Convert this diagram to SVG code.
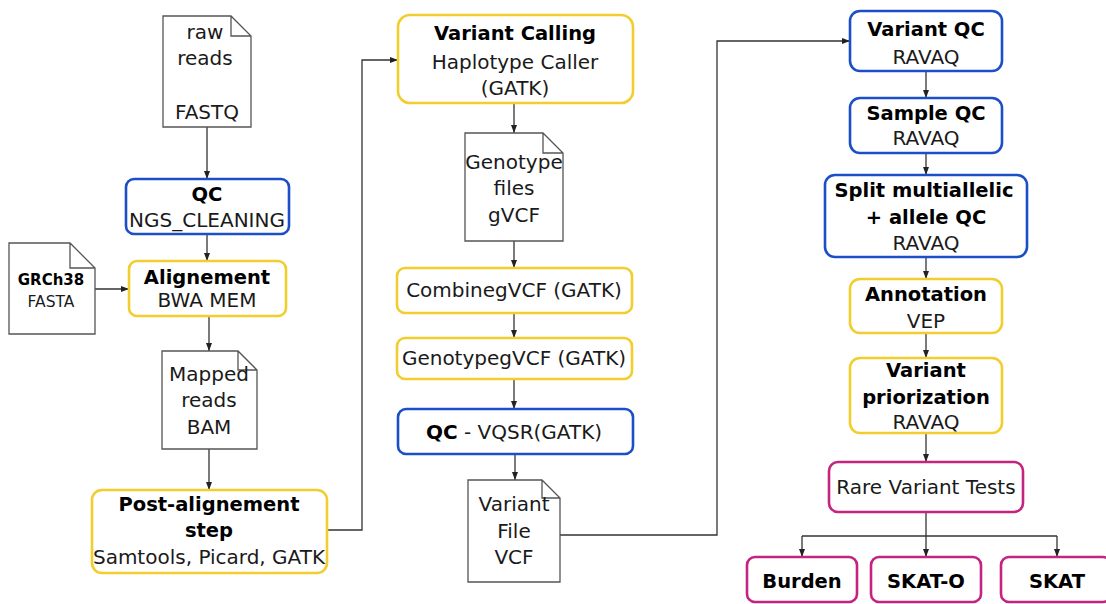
<svg xmlns="http://www.w3.org/2000/svg" width="1106" height="604" viewBox="0 0 1106 604">
<defs>
<marker id="arr" viewBox="0 0 8 6" refX="8" refY="3" markerWidth="8" markerHeight="6" markerUnits="userSpaceOnUse" orient="auto">
<path d="M0,0 L8,3 L0,6 Z" fill="#222"/>
</marker>
<style>
.doc{fill:#fff;stroke:#555;stroke-width:1.3}
.y{fill:#fff;stroke:#f2cd2e;stroke-width:2.6}
.b{fill:#fff;stroke:#1c4fc6;stroke-width:2.6}
.p{fill:#fff;stroke:#c4237f;stroke-width:2.6}
text{font-family:"DejaVu Sans",Verdana,sans-serif;font-size:20px;fill:#1a1a1a;text-anchor:middle;dominant-baseline:central}
.bd{font-weight:bold;font-size:19.5px;fill:#000}
.sm{font-size:15.5px}
.c{fill:none;stroke:#333;stroke-width:1.3;marker-end:url(#arr)}
.l{fill:none;stroke:#333;stroke-width:1.3}
</style>
</defs>
<rect width="1106" height="604" fill="#fff"/>
<g id="connectors">
<path class="c" d="M207,127 V179"/>
<path class="c" d="M207,234 V261"/>
<path class="c" d="M95,289 H129"/>
<path class="c" d="M209,316 V351"/>
<path class="c" d="M209,449 V490"/>
<path class="c" d="M327,530 H362 V60 H398"/>
<path class="c" d="M514,103 V133"/>
<path class="c" d="M514,241 V268"/>
<path class="c" d="M514,313 V338"/>
<path class="c" d="M514,379 V409"/>
<path class="c" d="M515,454 V480"/>
<path class="c" d="M560,535 H717 V41 H850"/>
<path class="c" d="M926,71 V98"/>
<path class="c" d="M926,153 V175"/>
<path class="c" d="M926,257 V279"/>
<path class="c" d="M926,333 V358"/>
<path class="c" d="M926,433 V462"/>
<path class="c" d="M926,512 V557"/>
<path class="l" d="M802,536 H1057"/>
<path class="c" d="M802,536 V557"/>
<path class="c" d="M1057,536 V557"/>
</g>
<g id="raw-reads">
<path class="doc" d="M163,16 H231 L251,36 V127 H163 Z M231,16 V36 H251"/>
<text x="205" y="32">raw</text>
<text x="205" y="58">reads</text>
<text x="207" y="112">FASTQ</text>
</g>
<g id="qc">
<rect class="b" x="126" y="179" width="163" height="55" rx="8"/>
<text class="bd" x="207" y="194">QC</text>
<text x="207" y="220">NGS_CLEANING</text>
</g>
<g id="grch38">
<path class="doc" d="M9,243 H70 L95,268 V334 H9 Z M70,243 V268 H95"/>
<text class="bd" x="51" y="280" style="font-size:15px">GRCh38</text>
<text class="sm" x="51" y="302">FASTA</text>
</g>
<g id="alignement">
<rect class="y" x="129" y="261" width="157" height="55" rx="8"/>
<text class="bd" x="207" y="277">Alignement</text>
<text x="207" y="300">BWA MEM</text>
</g>
<g id="mapped-reads">
<path class="doc" d="M162,351 H238 L257,370 V449 H162 Z M238,351 V370 H257"/>
<text x="209" y="374">Mapped</text>
<text x="209" y="400">reads</text>
<text x="209" y="427">BAM</text>
</g>
<g id="post-alignement">
<rect class="y" x="92" y="490" width="235" height="83" rx="10"/>
<text class="bd" x="209" y="504">Post-alignement</text>
<text class="bd" x="209" y="530">step</text>
<text x="209" y="557">Samtools, Picard, GATK</text>
</g>
<g id="variant-calling">
<rect class="y" x="398" y="15" width="235" height="88" rx="12"/>
<text class="bd" x="515" y="33">Variant Calling</text>
<text x="515" y="62">Haplotype Caller</text>
<text x="515" y="88">(GATK)</text>
</g>
<g id="genotype-files">
<path class="doc" d="M465,133 H543 L563,153 V241 H465 Z M543,133 V153 H563"/>
<text x="514" y="162">Genotype</text>
<text x="514" y="188">files</text>
<text x="514" y="215">gVCF</text>
</g>
<g id="combinegvcf">
<rect class="y" x="397" y="268" width="235" height="45" rx="8"/>
<text x="514" y="290">CombinegVCF (GATK)</text>
</g>
<g id="genotypegvcf">
<rect class="y" x="397" y="338" width="235" height="41" rx="8"/>
<text x="514" y="358">GenotypegVCF (GATK)</text>
</g>
<g id="qc-vqsr">
<rect class="b" x="398" y="409" width="235" height="45" rx="8"/>
<text x="514" y="432"><tspan style="font-weight:bold;fill:#000">QC</tspan> - VQSR(GATK)</text>
</g>
<g id="variant-file">
<path class="doc" d="M468,480 H542 L560,498 V582 H468 Z M542,480 V498 H560"/>
<text x="514" y="504">Variant</text>
<text x="514" y="531">File</text>
<text x="514" y="557">VCF</text>
</g>
<g id="variant-qc">
<rect class="b" x="850" y="11" width="152" height="60" rx="10"/>
<text class="bd" x="926" y="29">Variant QC</text>
<text x="926" y="57">RAVAQ</text>
</g>
<g id="sample-qc">
<rect class="b" x="850" y="98" width="152" height="55" rx="10"/>
<text class="bd" x="926" y="113">Sample QC</text>
<text x="926" y="138">RAVAQ</text>
</g>
<g id="split">
<rect class="b" x="825" y="175" width="202" height="82" rx="10"/>
<text class="bd" x="924" y="190">Split multiallelic</text>
<text class="bd" x="926" y="217">+ allele QC</text>
<text x="926" y="243">RAVAQ</text>
</g>
<g id="annotation">
<rect class="y" x="850" y="279" width="152" height="54" rx="10"/>
<text class="bd" x="926" y="294">Annotation</text>
<text x="926" y="321">VEP</text>
</g>
<g id="variant-priorization">
<rect class="y" x="850" y="358" width="152" height="75" rx="10"/>
<text class="bd" x="926" y="370">Variant</text>
<text class="bd" x="926" y="397">priorization</text>
<text x="926" y="422">RAVAQ</text>
</g>
<g id="rare-variant-tests">
<rect class="p" x="829" y="462" width="194" height="50" rx="9"/>
<text x="926" y="487">Rare Variant Tests</text>
</g>
<g id="burden">
<rect class="p" x="747" y="557" width="110" height="45" rx="8"/>
<text class="bd" x="802" y="581">Burden</text>
</g>
<g id="skat-o">
<rect class="p" x="871" y="557" width="110" height="45" rx="8"/>
<text class="bd" x="926" y="581">SKAT-O</text>
</g>
<g id="skat">
<rect class="p" x="1001" y="557" width="110" height="45" rx="8"/>
<text class="bd" x="1057" y="581">SKAT</text>
</g>
</svg>
